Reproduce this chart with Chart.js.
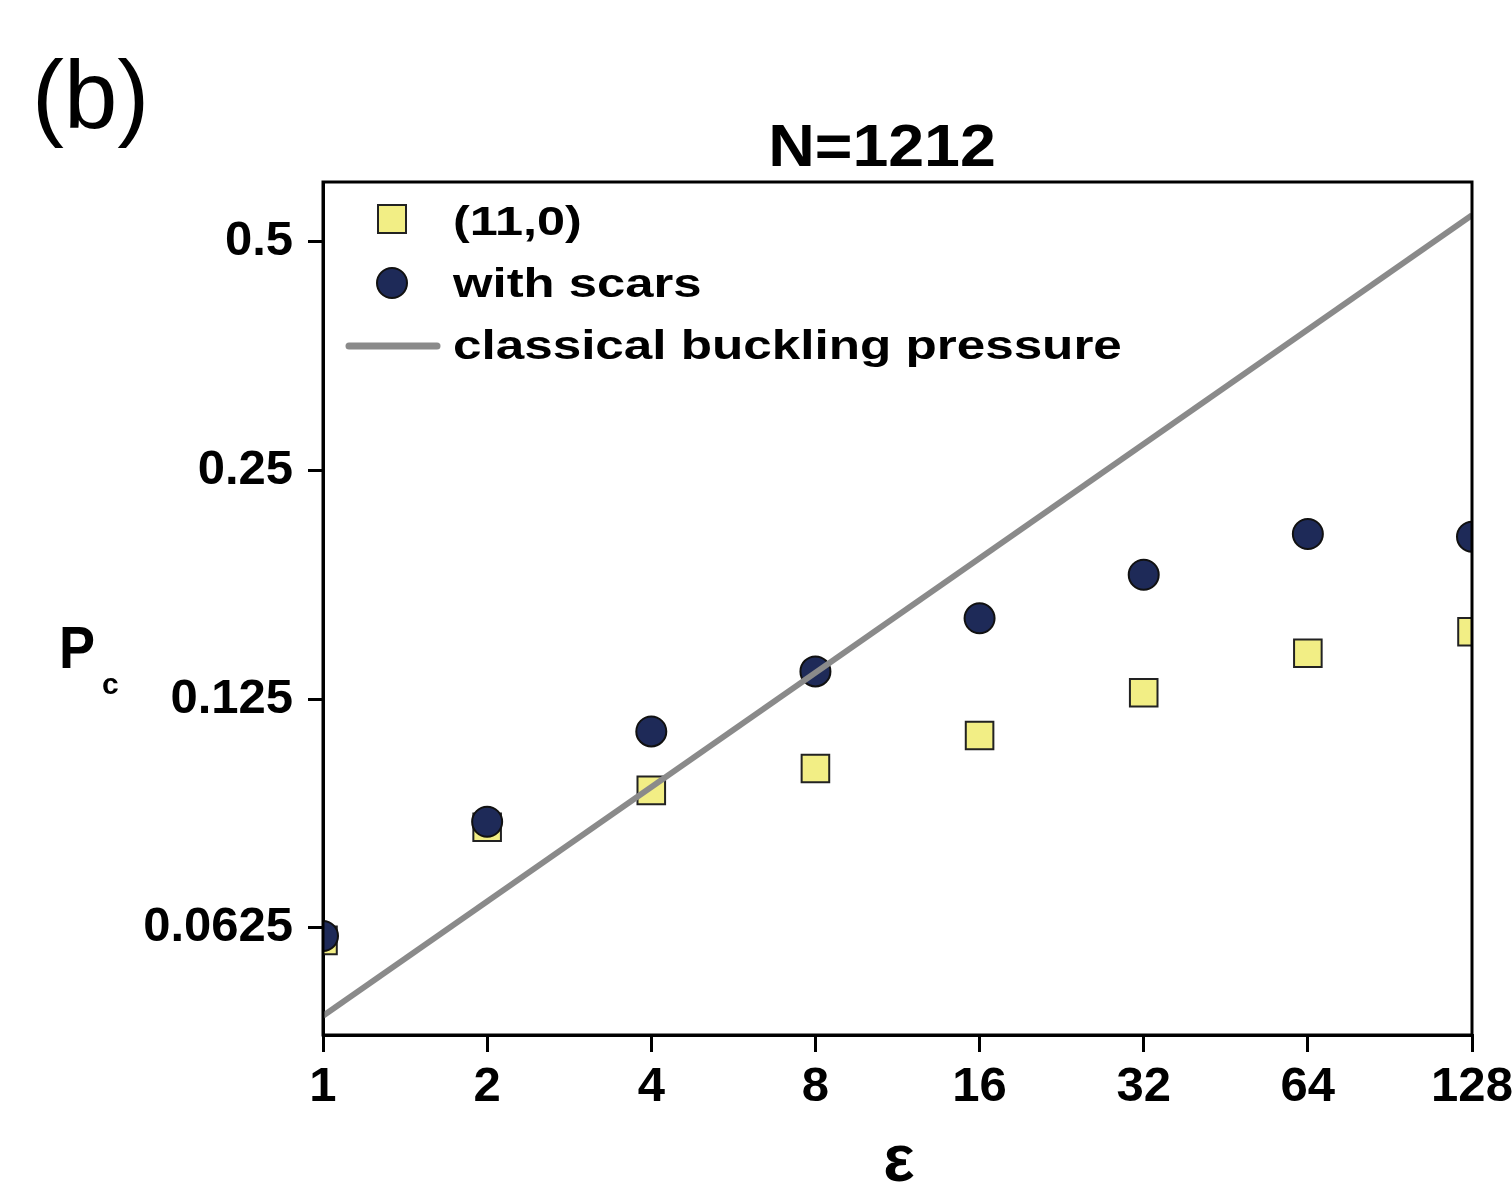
<!DOCTYPE html>
<html>
<head>
<meta charset="utf-8">
<title>N=1212</title>
<script src="https://cdn.jsdelivr.net/npm/chart.js@4.4.0/dist/chart.umd.min.js"></script>
<style>
  html, body { margin: 0; padding: 0; background: #ffffff; }
  #plot { display: block; }
</style>
</head>
<body>
<canvas id="plot" width="1512" height="1185"></canvas>
<script>
// values
const epsilon = [1, 2, 4, 8, 16, 32, 64, 128];
const pcZigzag = [0.0602, 0.0848, 0.0948, 0.1013, 0.1119, 0.1274, 0.1436, 0.1532];
const pcScars = [0.0610, 0.0862, 0.1133, 0.1359, 0.1596, 0.1821, 0.2060, 0.2043];
const classicalEps = [1, 128];
const classicalPc = [0.0479, 0.541];
const xTicks = [1, 2, 4, 8, 16, 32, 64, 128];
const yTicks = [0.0625, 0.125, 0.25, 0.5];

const FONT = "'Liberation Sans', Arial, sans-serif";

// draw a text squeezed/stretched horizontally
function wideText(ctx, text, x, y, sx) {
  ctx.save();
  ctx.translate(x, y);
  ctx.scale(sx, 1);
  ctx.fillText(text, 0, 0);
  ctx.restore();
}

// frame, legend and labels
const extras = {
  id: 'extras',
  afterDraw(chart) {
    const ctx = chart.ctx;
    const a = chart.chartArea;
    const ds = chart.data.datasets;
    ctx.save();

    // box
    ctx.strokeStyle = '#000';
    ctx.lineWidth = 3;
    ctx.strokeRect(a.left, a.top, a.right - a.left, a.bottom - a.top);

    // legend
    ctx.lineWidth = 2;
    ctx.fillStyle = ds[2].backgroundColor;
    ctx.strokeStyle = ds[2].borderColor;
    ctx.fillRect(378, 205, 28, 28);
    ctx.strokeRect(378, 205, 28, 28);

    ctx.beginPath();
    ctx.arc(392, 283, 15, 0, Math.PI * 2);
    ctx.fillStyle = ds[1].backgroundColor;
    ctx.strokeStyle = ds[1].borderColor;
    ctx.fill();
    ctx.stroke();

    ctx.beginPath();
    ctx.lineCap = 'round';
    ctx.lineWidth = 7;
    ctx.strokeStyle = ds[0].borderColor;
    ctx.moveTo(349, 346);
    ctx.lineTo(437, 346);
    ctx.stroke();

    ctx.fillStyle = '#000';
    ctx.textBaseline = 'alphabetic';
    ctx.textAlign = 'left';
    ctx.font = 'bold 40px ' + FONT;
    wideText(ctx, ds[2].label, 453, 235, 1.26);
    wideText(ctx, ds[1].label, 453, 297, 1.27);
    wideText(ctx, ds[0].label, 453, 359, 1.28);

    // title
    ctx.textAlign = 'center';
    ctx.font = 'bold 60px ' + FONT;
    wideText(ctx, 'N=1212', 882, 166, 1.075);

    // panel tag
    ctx.textAlign = 'left';
    ctx.font = '96px ' + FONT;
    ctx.fillText('(b)', 32, 128);

    // axis titles
    ctx.font = 'bold 60px ' + FONT;
    wideText(ctx, 'P', 59, 668, 0.9);
    ctx.font = 'bold 30px ' + FONT;
    ctx.fillText('c', 102, 694);
    ctx.textAlign = 'center';
    ctx.font = 'bold 66px ' + FONT;
    ctx.fillText('\u03B5', 899, 1181);

    ctx.restore();
  }
};

const tickFont = { family: FONT, size: 49, weight: 'bold' };

new Chart(document.getElementById('plot'), {
  type: 'scatter',
  data: {
    datasets: [
      {
        label: 'classical buckling pressure',
        data: classicalEps.map((x, i) => ({ x: x, y: classicalPc[i] })),
        showLine: true,
        borderColor: '#8a8a8a',
        backgroundColor: '#8a8a8a',
        borderWidth: 6,
        pointRadius: 0,
        clip: 0,
        order: 0
      },
      {
        label: 'with scars',
        data: epsilon.map((x, i) => ({ x: x, y: pcScars[i] })),
        pointStyle: 'circle',
        pointRadius: 15,
        borderWidth: 2,
        backgroundColor: '#1e2a58',
        borderColor: '#111111',
        clip: 0,
        order: 1
      },
      {
        label: '(11,0)',
        data: epsilon.map((x, i) => ({ x: x, y: pcZigzag[i] })),
        pointStyle: 'rect',
        pointRadius: 19.5,
        borderWidth: 2,
        backgroundColor: '#f2ee85',
        borderColor: '#222222',
        clip: 0,
        order: 2
      }
    ]
  },
  options: {
    responsive: false,
    animation: false,
    events: [],
    layout: { padding: { top: 182, right: 40, bottom: 0, left: 0 } },
    plugins: {
      legend: { display: false },
      title: { display: false },
      tooltip: { enabled: false }
    },
    scales: {
      x: {
        type: 'logarithmic',
        position: 'bottom',
        min: 1,
        max: 128,
        afterBuildTicks: (s) => { s.ticks = xTicks.map(v => ({ value: v })); },
        afterFit: (s) => { s.height = 150; s.paddingLeft = 0; s.paddingRight = 0; },
        ticks: {
          font: tickFont,
          color: '#000',
          padding: 6,
          autoSkip: false,
          maxRotation: 0,
          callback: (v) => String(v)
        },
        grid: {
          drawOnChartArea: false,
          drawTicks: true,
          tickLength: 17,
          tickWidth: 3,
          tickColor: '#000',
          lineWidth: 3
        },
        border: { display: true, color: '#000', width: 3 }
      },
      y: {
        type: 'logarithmic',
        position: 'left',
        min: 0.0452,
        max: 0.598,
        afterBuildTicks: (s) => { s.ticks = yTicks.map(v => ({ value: v })); },
        afterFit: (s) => { s.width = 323; s.paddingTop = 0; s.paddingBottom = 0; },
        ticks: {
          font: tickFont,
          color: '#000',
          padding: 15,
          autoSkip: false,
          callback: (v) => String(v)
        },
        grid: {
          drawOnChartArea: false,
          drawTicks: true,
          tickLength: 15,
          tickWidth: 3,
          tickColor: '#000',
          lineWidth: 3
        },
        border: { display: true, color: '#000', width: 3 }
      }
    }
  },
  plugins: [extras]
});
</script>
</body>
</html>
